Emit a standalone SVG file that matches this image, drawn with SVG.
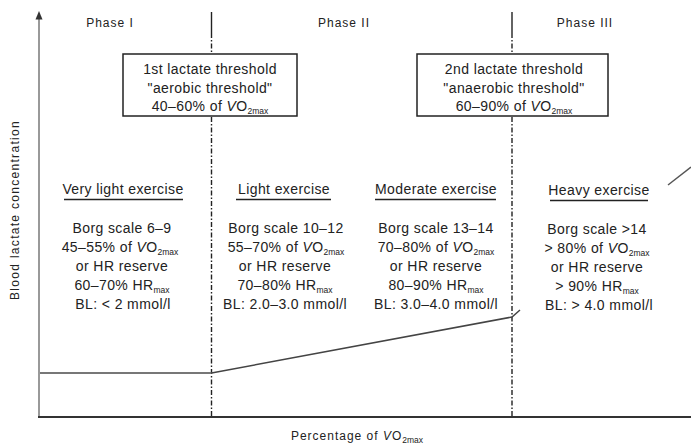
<svg xmlns="http://www.w3.org/2000/svg" width="691" height="448" viewBox="0 0 691 448">
<style>
text{font-family:"Liberation Sans",Arial,sans-serif;fill:#222;text-anchor:middle}
.b{font-size:14px;letter-spacing:0.4px}
.p{font-size:12px;letter-spacing:1px}
.s{font-size:8.5px;letter-spacing:0}
.box{fill:#fff;stroke:#222;stroke-width:1.5}
.ul{stroke:#222;stroke-width:1.6}
.dash{stroke:#222;stroke-width:1.4;stroke-dasharray:5 2 1.5 2;fill:none}
</style>
<rect width="691" height="448" fill="#fff"/>
<g id="connectors">
  <line x1="39" y1="18" x2="39" y2="418" stroke="#999" stroke-width="2"/>
  <polygon points="39,11 35.5,19.5 42.5,19.5" fill="#333"/>
  <line x1="38" y1="417" x2="691" y2="417" stroke="#333" stroke-width="2"/>
  <line x1="211.5" y1="12" x2="211.5" y2="33" stroke="#222" stroke-width="1.4"/>
  <line class="dash" x1="211.5" y1="33" x2="211.5" y2="416"/>
  <line x1="512" y1="12" x2="512" y2="33" stroke="#222" stroke-width="1.4"/>
  <line class="dash" x1="512" y1="33" x2="512" y2="416"/>
  <polyline points="40,373 211.5,373" fill="none" stroke="#777" stroke-width="1.8"/>
  <polyline points="211.5,373 512,317 520,310" fill="none" stroke="#444" stroke-width="1.5"/>
  <line x1="668" y1="185" x2="691" y2="167" stroke="#555" stroke-width="1.5"/>
</g>
<g id="axis-labels">
  <text class="p" transform="translate(19,210) rotate(-90)" style="letter-spacing:1.3px">Blood lactate concentration</text>
  <text class="p" x="357" y="440">Percentage of <tspan font-style="italic">V</tspan>O<tspan class="s" dy="3">2max</tspan></text>
</g>
<g id="phase1"><text class="p" x="110" y="27">Phase I</text></g>
<g id="phase2"><text class="p" x="344" y="27">Phase II</text></g>
<g id="phase3"><text class="p" x="585" y="27">Phase III</text></g>
<g id="threshold1">
  <rect class="box" x="123" y="54" width="174" height="62"/>
  <text class="b" x="210" y="74">1st lactate threshold</text>
  <text class="b" x="210" y="93">"aerobic threshold"</text>
  <text class="b" x="210" y="111">40–60% of <tspan font-style="italic">V</tspan>O<tspan class="s" dy="3">2max</tspan></text>
</g>
<g id="threshold2">
  <rect class="box" x="417" y="54" width="191" height="62"/>
  <text class="b" x="514" y="74">2nd lactate threshold</text>
  <text class="b" x="514" y="93">"anaerobic threshold"</text>
  <text class="b" x="514" y="111">60–90% of <tspan font-style="italic">V</tspan>O<tspan class="s" dy="3">2max</tspan></text>
</g>
<g id="very-light">
  <text class="b" x="123" y="194">Very light exercise</text>
  <line class="ul" x1="64" y1="199.5" x2="183" y2="199.5"/>
  <text class="b" x="122" y="233">Borg scale 6–9</text>
  <text class="b" x="120" y="252">45–55% of <tspan font-style="italic">V</tspan>O<tspan class="s" dy="3">2max</tspan></text>
  <text class="b" x="122" y="271">or HR reserve</text>
  <text class="b" x="122" y="290">60–70% HR<tspan class="s" dy="3">max</tspan></text>
  <text class="b" x="123" y="309">BL: &lt; 2 mmol/l</text>
</g>
<g id="light">
  <text class="b" x="284" y="194">Light exercise</text>
  <line class="ul" x1="236" y1="199.5" x2="331" y2="199.5"/>
  <text class="b" x="286" y="233">Borg scale 10–12</text>
  <text class="b" x="286" y="252">55–70% of <tspan font-style="italic">V</tspan>O<tspan class="s" dy="3">2max</tspan></text>
  <text class="b" x="285" y="271">or HR reserve</text>
  <text class="b" x="285" y="290">70–80% HR<tspan class="s" dy="3">max</tspan></text>
  <text class="b" x="285" y="309">BL: 2.0–3.0 mmol/l</text>
</g>
<g id="moderate">
  <text class="b" x="436" y="194">Moderate exercise</text>
  <line class="ul" x1="375" y1="199.5" x2="496" y2="199.5"/>
  <text class="b" x="436" y="233">Borg scale 13–14</text>
  <text class="b" x="436" y="252">70–80% of <tspan font-style="italic">V</tspan>O<tspan class="s" dy="3">2max</tspan></text>
  <text class="b" x="436" y="271">or HR reserve</text>
  <text class="b" x="436" y="290">80–90% HR<tspan class="s" dy="3">max</tspan></text>
  <text class="b" x="436" y="309">BL: 3.0–4.0 mmol/l</text>
</g>
<g id="heavy">
  <text class="b" x="599" y="195">Heavy exercise</text>
  <line class="ul" x1="550" y1="200.5" x2="648" y2="200.5"/>
  <text class="b" x="597" y="234">Borg scale &gt;14</text>
  <text class="b" x="597" y="253">&gt; 80% of <tspan font-style="italic">V</tspan>O<tspan class="s" dy="3">2max</tspan></text>
  <text class="b" x="597" y="272">or HR reserve</text>
  <text class="b" x="597" y="291">&gt; 90% HR<tspan class="s" dy="3">max</tspan></text>
  <text class="b" x="599" y="310">BL: &gt; 4.0 mmol/l</text>
</g>
</svg>
